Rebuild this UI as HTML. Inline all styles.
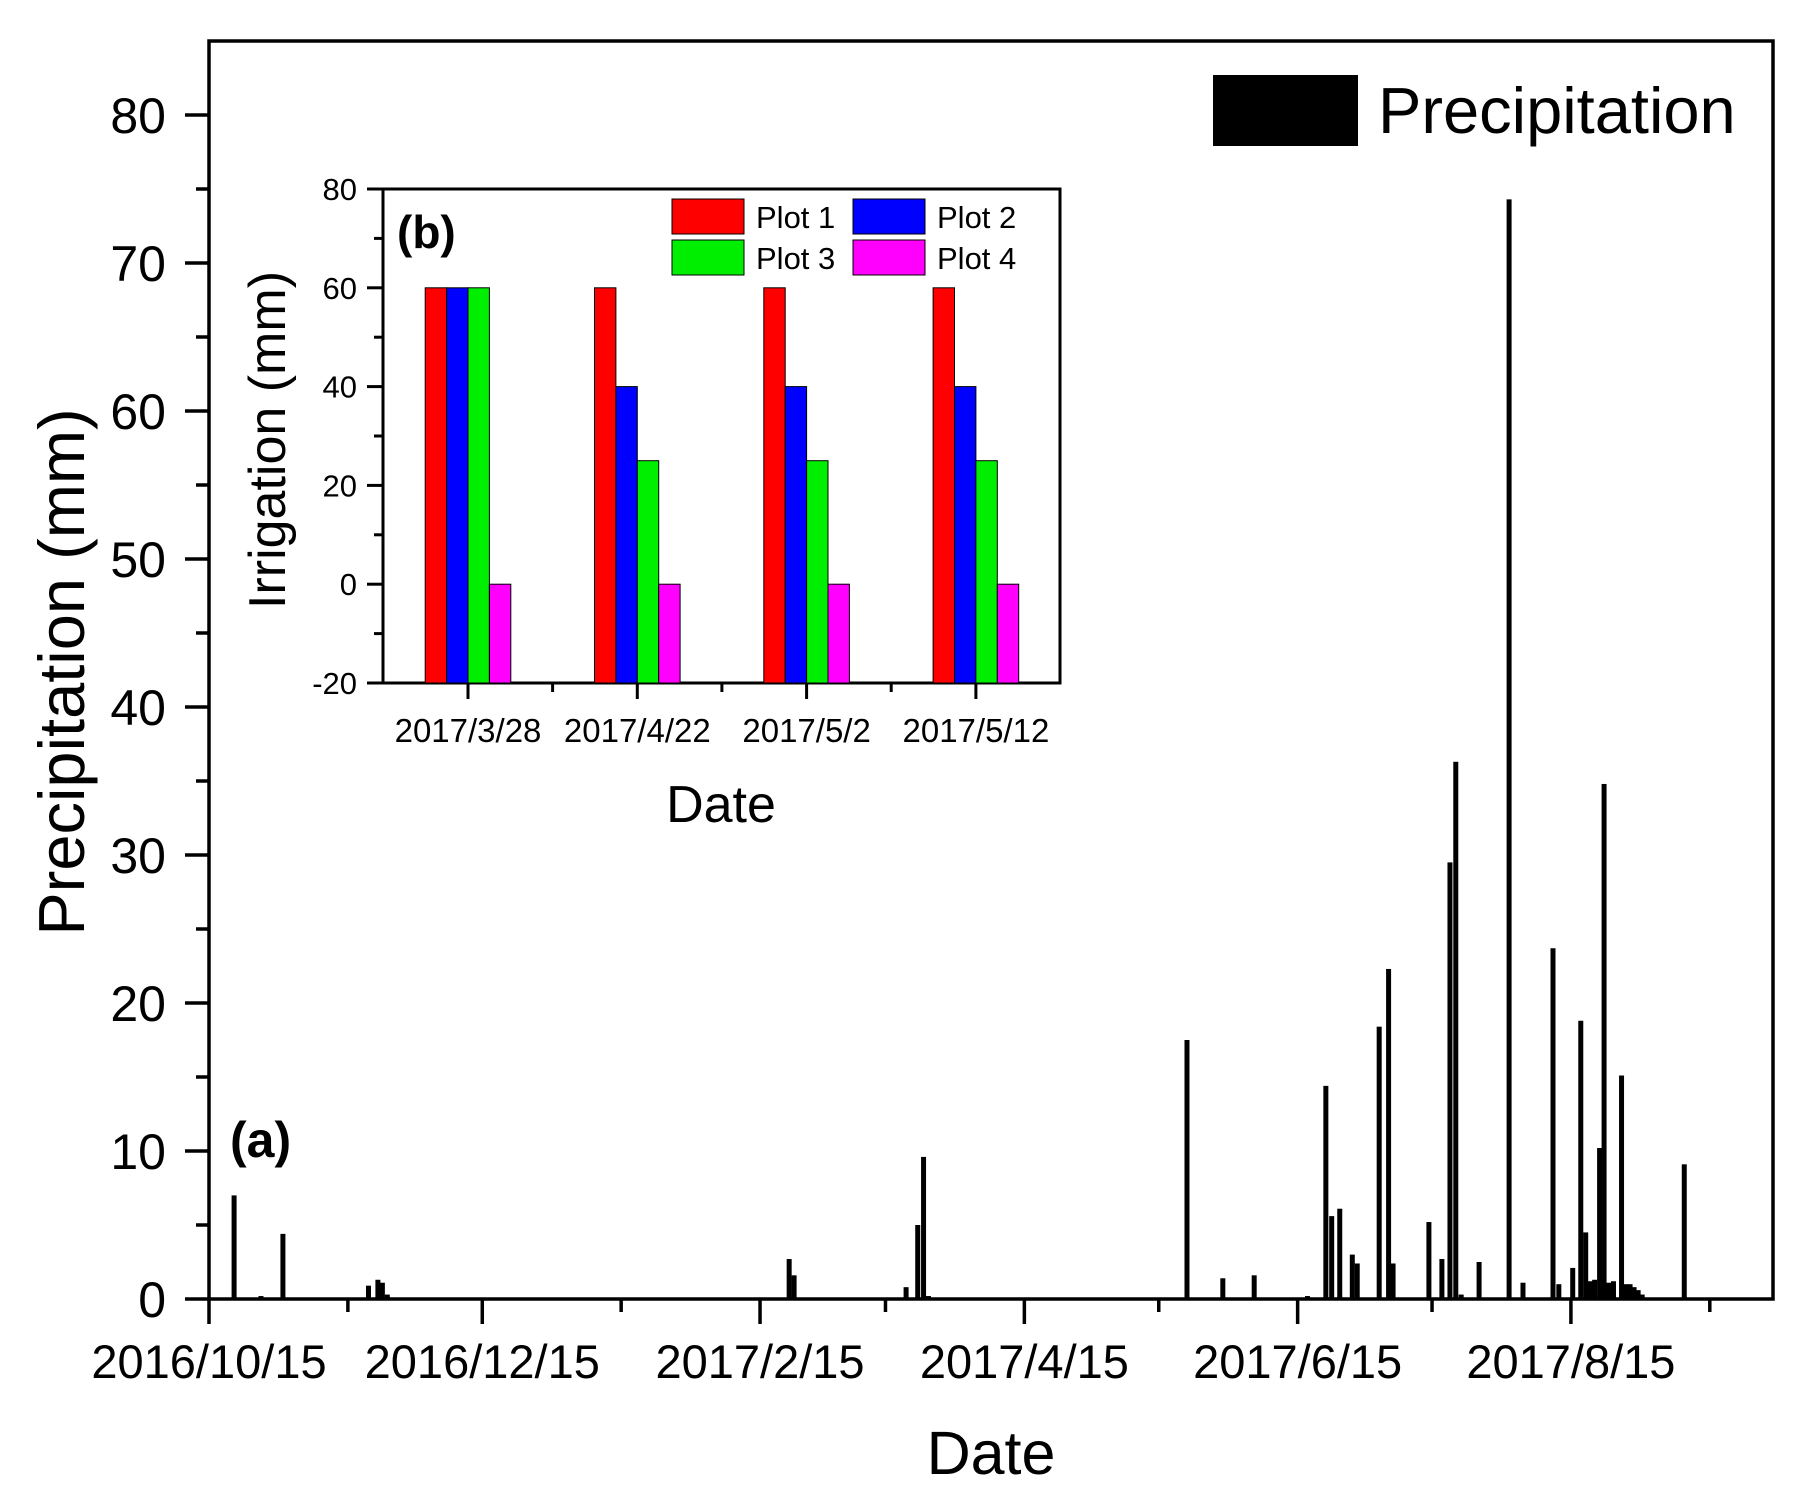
<!DOCTYPE html>
<html><head><meta charset="utf-8"><style>body{margin:0;background:#fff}svg{display:block}text{font-family:"Liberation Sans",Arial,sans-serif}</style></head>
<body>
<svg id="c" width="1818" height="1507" viewBox="0 0 1818 1507"></svg>
<script>
const precipDays=[5.6,11.6,16.5,22.7,35.6,37.7,38.7,39.8,129.5,130.6,155.6,158.2,159.5,160.6,161.6,175.3,218.3,226.3,233.3,245.2,249.3,250.6,252.4,255.2,256.3,261.2,263.3,264.3,272.3,275.2,277,278.3,279.5,283.5,290.2,293.3,300,301.3,304.4,306.2,307.3,308.3,309.3,310.4,311.4,312.4,313.5,315.3,316.3,317.2,318.1,319,319.9,329.3];
const precipVals=[7.0,0.2,4.4,0.1,0.9,1.3,1.1,0.3,2.7,1.6,0.8,5.0,9.6,0.2,0.1,0.1,17.5,1.4,1.6,0.2,14.4,5.6,6.1,3.0,2.4,18.4,22.3,2.4,5.2,2.7,29.5,36.3,0.3,2.5,74.3,1.1,23.7,1.0,2.1,18.8,4.5,1.2,1.3,10.2,34.8,1.1,1.2,15.1,1.0,1.0,0.8,0.6,0.3,9.1];
const yTicks=[0,10,20,30,40,50,60,70,80];
const xTickDays=[0,61,123,182,243,304];
const xTickLabels=["2016/10/15","2016/12/15","2017/2/15","2017/4/15","2017/6/15","2017/8/15"];
const minorDays=[31,92,151,212,273,335];
const insetCats=["2017/3/28","2017/4/22","2017/5/2","2017/5/12"];
const plot1=[60,60,60,60];
const plot2=[60,40,40,40];
const plot3=[60,25,25,25];
const plot4=[0,0,0,0];
const insetTicks=[-20,0,20,40,60,80];
const NS="http://www.w3.org/2000/svg";
const svg=document.getElementById('c');
function el(t,a,p){const e=document.createElementNS(NS,t);for(const k in a)e.setAttribute(k,a[k]);(p||svg).appendChild(e);return e;}
const X0=209,X1=1773,Y0=1299,YT=41;
const xs=d=>X0+d*4.48;
const ys=v=>Y0-v*14.8;
let f=el('rect',{x:X0,y:YT,width:X1-X0,height:Y0-YT,fill:'none',stroke:'#000','stroke-width':3.5});

yTicks.forEach(v=>{
 let l=el('line',{x1:X0-24,x2:X0,y1:ys(v),y2:ys(v),stroke:'#000','stroke-width':3.5});
 
 let t=el('text',{x:166,y:ys(v)+18,'text-anchor':'end','font-size':50});t.textContent=v;
 
 if(v<80){let m=el('line',{x1:X0-13,x2:X0,y1:ys(v+5),y2:ys(v+5),stroke:'#000','stroke-width':3.5});
 }
});
xTickDays.forEach((d,i)=>{
 let l=el('line',{x1:xs(d),x2:xs(d),y1:Y0,y2:Y0+25,stroke:'#000','stroke-width':3.5});
 
 let t=el('text',{x:xs(d),y:1378,'text-anchor':'middle','font-size':47});t.textContent=xTickLabels[i];
 
});
minorDays.forEach(d=>{let m=el('line',{x1:xs(d),x2:xs(d),y1:Y0,y2:Y0+13,stroke:'#000','stroke-width':3.5});
 });
precipDays.forEach((d,i)=>{
 let r=el('rect',{x:xs(d)-2.5,y:ys(precipVals[i]),width:5,height:Y0-ys(precipVals[i]),fill:'#000'});
 
});
let t;
t=el('text',{x:991,y:1474,'text-anchor':'middle','font-size':61});t.textContent='Date';

t=el('text',{x:0,y:0,'text-anchor':'middle','font-size':65,transform:'translate(84,672) rotate(-90)'});t.textContent='Precipitation (mm)';

let lr=el('rect',{x:1213,y:75,width:145,height:71,fill:'#000'});

t=el('text',{x:1378,y:133,'font-size':65});t.textContent='Precipitation';

t=el('text',{x:230,y:1157,'font-size':50,'font-weight':'bold'});t.textContent='(a)';

const IX0=383,IX1=1060,IYT=189,IYB=683;
const iy=v=>IYT+(80-v)*4.94;
const cx=i=>468+i*169.3;
let ir=el('rect',{x:IX0,y:IYT,width:IX1-IX0,height:IYB-IYT,fill:'#fff',stroke:'#000','stroke-width':3});

insetTicks.forEach(v=>{
 let l=el('line',{x1:IX0-16,x2:IX0,y1:iy(v),y2:iy(v),stroke:'#000','stroke-width':3});
 
 let tt=el('text',{x:357,y:iy(v)+11,'text-anchor':'end','font-size':31});tt.textContent=v;
 
 if(v<80){let m=el('line',{x1:IX0-9,x2:IX0,y1:iy(v+10),y2:iy(v+10),stroke:'#000','stroke-width':3});
 }
});
const series=[[plot1,'#ff0000'],[plot2,'#0000ff'],[plot3,'#00ee00'],[plot4,'#ff00ff']];
insetCats.forEach((c,i)=>{
 series.forEach((s,j)=>{
  let b=el('rect',{x:cx(i)-42.8+j*21.4,y:iy(s[0][i]),width:21.4,height:IYB-iy(s[0][i]),fill:s[1],stroke:'#000','stroke-width':1});
  
 });
 let l=el('line',{x1:cx(i),x2:cx(i),y1:IYB,y2:IYB+16,stroke:'#000','stroke-width':3});
 
 if(i<3){let m=el('line',{x1:cx(i)+84.6,x2:cx(i)+84.6,y1:IYB,y2:IYB+9,stroke:'#000','stroke-width':3});
 }
 let tt=el('text',{x:cx(i),y:742,'text-anchor':'middle','font-size':33});tt.textContent=c;
 
});
t=el('text',{x:721,y:822,'text-anchor':'middle','font-size':52});t.textContent='Date';

t=el('text',{x:0,y:0,'text-anchor':'middle','font-size':52,transform:'translate(285,440) rotate(-90)'});t.textContent='Irrigation (mm)';

t=el('text',{x:397,y:248,'font-size':46,'font-weight':'bold'});t.textContent='(b)';

const leg=[[672,199,'#ff0000','Plot 1'],[853,199,'#0000ff','Plot 2'],[672,240,'#00ee00','Plot 3'],[853,240,'#ff00ff','Plot 4']];
leg.forEach(g=>{
 let r=el('rect',{x:g[0],y:g[1],width:72,height:35,fill:g[2],stroke:'#000','stroke-width':1});
 
 let tt=el('text',{x:g[0]+84,y:g[1]+29,'font-size':31});tt.textContent=g[3];
 
});
</script>
</body></html>
